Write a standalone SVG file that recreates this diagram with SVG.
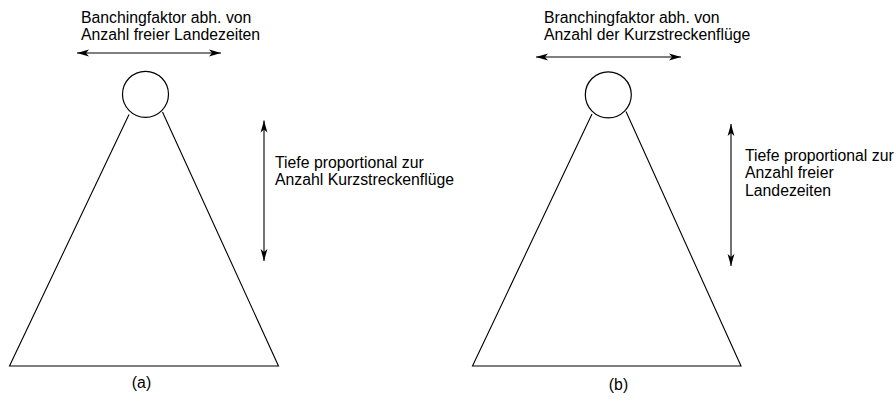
<svg xmlns="http://www.w3.org/2000/svg" width="896" height="405" viewBox="0 0 896 405">
  <defs>
    <marker id="head" markerUnits="userSpaceOnUse" markerWidth="14" markerHeight="10" refX="12" refY="5" orient="auto-start-reverse">
      <path d="M0,1.6 L12,5 L0,8.4 L3,5 Z" fill="#000"/>
    </marker>
    <style>
      .edge { fill: none; stroke: #000; stroke-width: 1.1; }
      .dim { fill: none; stroke: #000; stroke-width: 1.1; marker-start: url(#head); marker-end: url(#head); }
      .node { fill: #fff; stroke: #000; stroke-width: 1.2; }
      text { font-family: "Liberation Sans", Arial, Helvetica, sans-serif; font-size: 15.8px; fill: #000; }
    </style>
  </defs>

  <!-- Tree (a): root node and search-space triangle -->
  <g id="tree-a">
    <circle class="node" cx="145.5" cy="94.3" r="23"/>
    <path class="edge" d="M129,114.5 L9.5,366 L278.5,366 L162.5,112"/>
  </g>

  <!-- Tree (b): root node and search-space triangle -->
  <g id="tree-b">
    <circle class="node" cx="608.3" cy="94.8" r="23"/>
    <path class="edge" d="M592,114 L472.5,366 L741,366 L626,111.5"/>
  </g>

  <!-- Dimension arrows -->
  <g id="connectors">
    <line class="dim" x1="77" y1="53" x2="221" y2="53"/>
    <line class="dim" x1="264" y1="120.5" x2="264" y2="261"/>
    <line class="dim" x1="536" y1="57" x2="681" y2="57"/>
    <line class="dim" x1="731" y1="124" x2="731" y2="266"/>
  </g>

  <!-- Labels for (a) -->
  <g id="labels-a">
    <text x="81" y="22.7">Banchingfaktor abh. von</text>
    <text x="81" y="40">Anzahl freier Landezeiten</text>
    <text x="275" y="167.5">Tiefe proportional zur</text>
    <text x="275" y="185">Anzahl Kurzstreckenflüge</text>
    <text x="141.5" y="388" text-anchor="middle">(a)</text>
  </g>

  <!-- Labels for (b) -->
  <g id="labels-b">
    <text x="544" y="22.7">Branchingfaktor abh. von</text>
    <text x="544" y="40">Anzahl der Kurzstreckenflüge</text>
    <text x="745" y="160.5">Tiefe proportional zur</text>
    <text x="745" y="178">Anzahl freier</text>
    <text x="745" y="195.5">Landezeiten</text>
    <text x="618.5" y="390" text-anchor="middle">(b)</text>
  </g>
</svg>
